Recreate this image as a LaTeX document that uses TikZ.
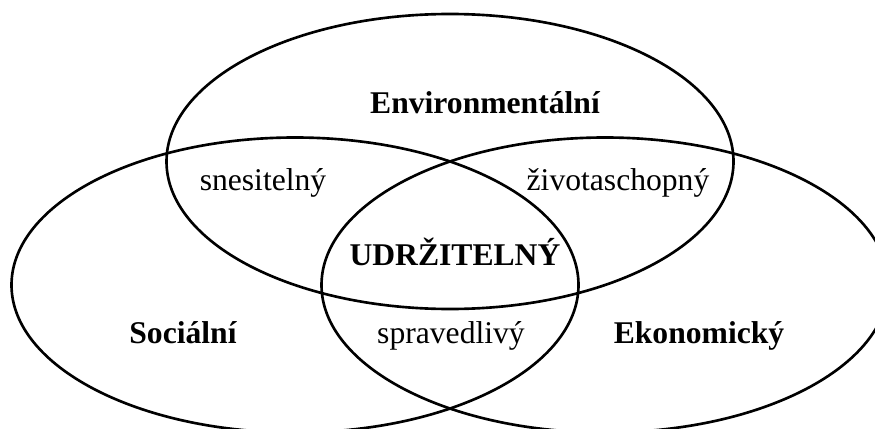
\documentclass[tikz,border=0pt]{standalone}
\usepackage{fontspec}
\setmainfont{Liberation Serif}
\usepackage{tikz}
\usetikzlibrary{positioning,calc}

\tikzset{
  ring/.style={line width=1.5pt},
  word/.style={anchor=base,inner sep=0pt,font=\fontsize{18}{21}\selectfont},
  pillar/.style={word,font=\fontsize{18}{21}\selectfont\bfseries}
}

\begin{document}
\begin{tikzpicture}[x=0.02cm,y=-0.02cm]

  \useasboundingbox (0,0) rectangle (875,429);
  \clip (0,0) rectangle (875,429);

  \coordinate (env) at (450,161.5);
  \coordinate (soc) at (295,285);
  \coordinate (eko) at (605,285);

  \draw[ring] (env) ellipse [x radius=283.5, y radius=147.5];
  \draw[ring] (soc) ellipse [x radius=283.5, y radius=147.5];
  \draw[ring] (eko) ellipse [x radius=283.5, y radius=147.5];

  \node[pillar] (p0) at (485,113) {Environmentální};
  \node[pillar] (p1) at (183,343) {Sociální};
  \node[pillar] (p2) at (699,343) {Ekonomický};
  \node[pillar] (p3) at (455,265) {UDRŽITELNÝ};
  \node[word] (p4) at (263,190) {snesitelný};
  \node[word] (p5) at (618,190) {životaschopný};
  \node[word] (p6) at (451,343) {spravedlivý};

\end{tikzpicture}
\end{document}
